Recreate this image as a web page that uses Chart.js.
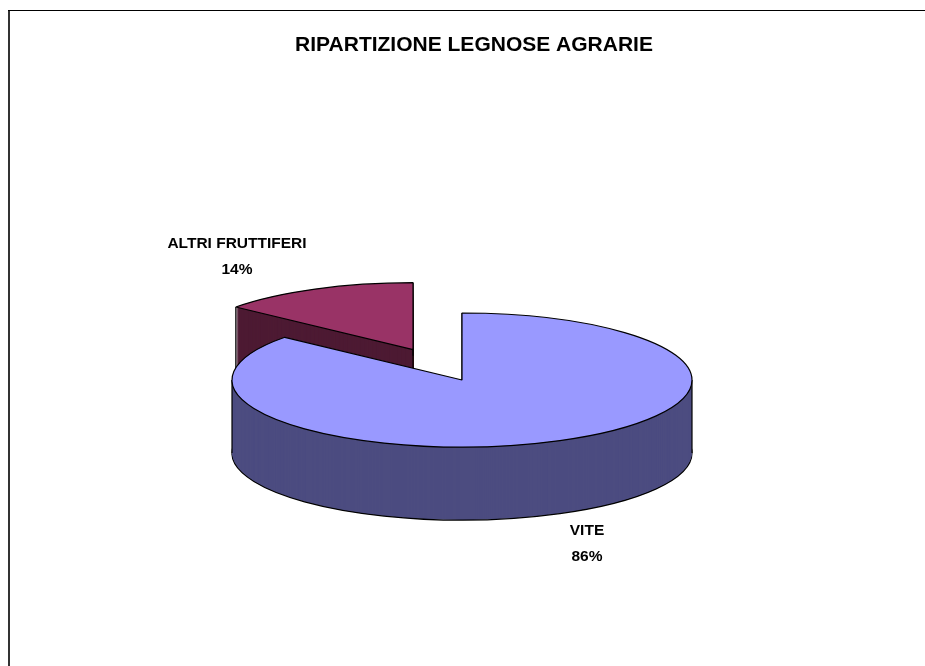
<!DOCTYPE html>
<html>
<head>
<meta charset="utf-8">
<title>Ripartizione legnose agrarie</title>
<script src="https://cdn.jsdelivr.net/npm/chart.js@4.4.1/dist/chart.umd.min.js"></script>
<style>
  html, body { margin: 0; padding: 0; background: #fff; }
  canvas { display: block; }
</style>
</head>
<body>
<canvas id="chart" width="925" height="666"></canvas>
<script>
// chart data
const categories = ["VITE", "ALTRI FRUTTIFERI"];
const shares = [86, 14];

// colours: top face and side wall
const topColors = ["#9999ff", "#993366"];
const sideColors = ["#4c4c80", "#4d1a33"];

// 3D pie geometry (pixels)
const PIE = { x: 462, y: 380, rx: 230, ry: 67, depth: 73 };
const explode = [0, 0.5];
const labelPos = [[587, 531], [237, 244]];
const LINE_GAP = 26;
const FONT = "'Liberation Sans', Arial, Helvetica, sans-serif";

// outer frame (left and top lines only)
const frame = {
  id: "frame",
  beforeDraw(chart) {
    const ctx = chart.ctx;
    ctx.save();
    ctx.fillStyle = "#fff";
    ctx.fillRect(0, 0, chart.width, chart.height);
    ctx.fillStyle = "#333";
    ctx.fillRect(8, 10, 2, chart.height - 10);
    ctx.fillStyle = "#000";
    ctx.fillRect(8, 10, chart.width - 8, 1);
    ctx.restore();
  }
};

// draws the pie arcs squashed into an ellipse with an extruded side
const pie3d = {
  id: "pie3d",
  beforeDatasetsDraw(chart) {
    const ctx = chart.ctx;
    const arcs = chart.getDatasetMeta(0).data;
    const base = ctx.getTransform();
    const R = arcs[0].outerRadius, cx = arcs[0].x, cy = arcs[0].y;
    const sx = PIE.rx / R, sy = PIE.ry / R;

    // keep borders 1px even inside the squashed transform
    const origStroke = ctx.stroke;
    ctx.stroke = function () {
      this.save();
      this.setTransform(base);
      origStroke.apply(this, arguments);
      this.restore();
    };

    const midOf = (a) => (a.startAngle + a.endAngle) / 2;
    // back slices first
    const order = arcs.map((a, i) => i).sort((i, j) => Math.sin(midOf(arcs[i])) - Math.sin(midOf(arcs[j])));

    ctx.save();
    order.forEach((i) => {
      const a = arcs[i];
      const mid = midOf(a);
      const ox = PIE.x + Math.cos(mid) * explode[i] * PIE.rx;
      const oy = PIE.y + Math.sin(mid) * explode[i] * PIE.ry;
      const place = (d) => {
        ctx.setTransform(base);
        ctx.translate(ox, oy + d);
        ctx.scale(sx, sy);
        ctx.translate(-cx, -cy);
      };
      const opts = a.options;

      // bottom outline, then the side fill stacked upwards
      a.options = Object.assign({}, opts, { backgroundColor: sideColors[i], borderColor: "#000" });
      place(PIE.depth);
      a.draw(ctx);
      a.options = Object.assign({}, opts, { backgroundColor: sideColors[i], borderWidth: 0 });
      for (let d = PIE.depth - 1; d > 0; d--) {
        place(d);
        a.draw(ctx);
      }

      // vertical edges of the side
      ctx.setTransform(base);
      const angles = [a.startAngle, a.endAngle];
      [0, Math.PI, 2 * Math.PI, 3 * Math.PI].forEach((t) => {
        if (t > a.startAngle && t < a.endAngle) angles.push(t);
      });
      let pts = angles.map((t) => [ox + Math.cos(t) * PIE.rx, oy + Math.sin(t) * PIE.ry]);
      if (explode[i] > 0) pts.push([ox, oy]);
      ctx.strokeStyle = "#000";
      ctx.lineWidth = 1.2;
      pts.forEach(([px, py]) => {
        ctx.beginPath();
        ctx.moveTo(px, py);
        ctx.lineTo(px, py + PIE.depth);
        origStroke.call(ctx);
      });

      // top face
      a.options = opts;
      place(0);
      a.draw(ctx);
    });
    ctx.restore();
    ctx.stroke = origStroke;
    return false;
  },
  afterDraw(chart) {
    const ctx = chart.ctx;
    const total = shares.reduce((s, v) => s + v, 0);
    ctx.save();
    ctx.font = "bold 15.5px " + FONT;
    ctx.textAlign = "center";
    ctx.textBaseline = "middle";
    ctx.fillStyle = "#000";
    categories.forEach((c, i) => {
      const [x, y] = labelPos[i];
      ctx.fillText(c, x, y);
      ctx.fillText(Math.round(shares[i] / total * 100) + "%", x, y + LINE_GAP);
    });
    ctx.restore();
  }
};

new Chart(document.getElementById("chart"), {
  type: "pie",
  data: {
    labels: categories,
    datasets: [{
      data: shares,
      backgroundColor: topColors,
      borderColor: "#000",
      borderWidth: 1.2
    }]
  },
  options: {
    responsive: false,
    animation: false,
    layout: { padding: { left: 23 } },
    plugins: {
      legend: { display: false },
      tooltip: { enabled: false },
      title: {
        display: true,
        text: "RIPARTIZIONE LEGNOSE AGRARIE",
        color: "#000",
        font: { family: FONT, size: 21, weight: "bold" },
        padding: { top: 33, bottom: 10 }
      }
    }
  },
  plugins: [frame, pie3d]
});
</script>
</body>
</html>
